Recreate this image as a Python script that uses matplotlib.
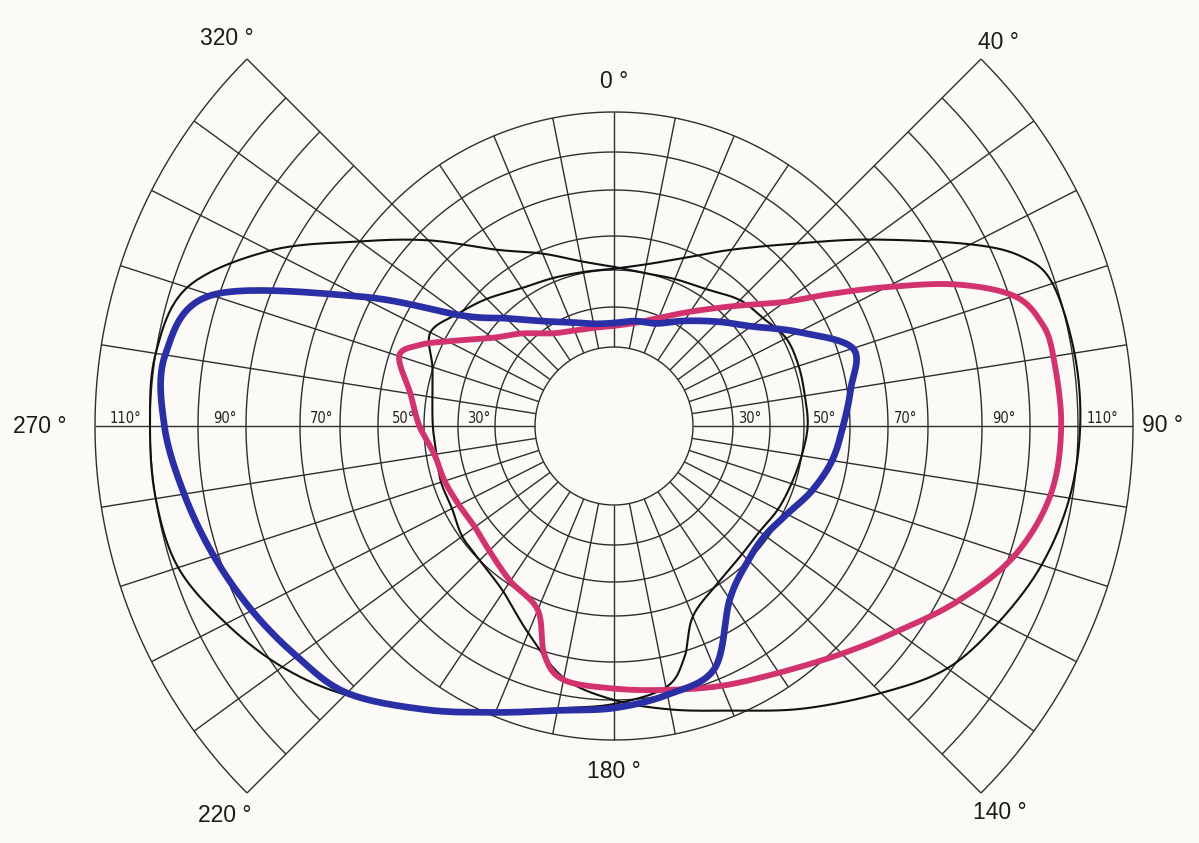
import numpy as np
import matplotlib
matplotlib.use("Agg")
import matplotlib.pyplot as plt

# ---- chart scale -------------------------------------------------------
# eccentricity rings (deg) and their radial position on the chart (px)
RING_ECC = [0, 10, 20, 30, 40, 50, 60, 70, 80, 90, 100, 110]
RING_POS = [0, 79, 119, 156, 190, 236, 274, 314, 368, 416, 464, 519]
# meridian (deg) -> drawn angle (deg): the 40-140 and 220-320 sectors are widened
MER_KNOTS = [0, 40, 90, 140, 180, 220, 270, 320, 360]
ANG_KNOTS = [0, 45, 90, 135, 180, 225, 270, 315, 360]

MERIDIAN_LABELS = [0, 40, 90, 140, 180, 220, 270, 320]
RING_LABELS = [30, 50, 70, 90, 110]

# ---- isopters: meridian (deg) and eccentricity (deg) --------------------
blue_mer = [0, 10, 20, 30, 40, 50, 60, 70, 80, 90, 100, 110, 120, 130, 140, 150,
            160, 170, 180, 190, 200, 210, 220, 230, 240, 250, 260, 270, 280, 290,
            300, 310, 320, 330, 340, 350]
blue_ecc = [16, 17, 18, 22, 27.7, 34, 43.7, 54, 51, 48.5, 46.7, 44, 40.9, 39, 40,
            44, 57, 60, 62, 64, 69, 75, 82, 85, 88, 91, 94, 97, 98, 91.5, 62.8,
            39.4, 29, 21.9, 18.3, 16.3]

pink_mer = [0, 10, 20, 30, 40, 50, 55, 60, 65, 70, 75, 80, 90, 100, 110, 120, 130,
            140, 150, 160, 170, 180, 190, 195, 200, 210, 220, 230, 240, 250, 260,
            270, 280, 290, 295, 300, 310, 320, 330, 340, 350]
pink_ecc = [15.3, 16.5, 19.5, 25, 34, 44.6, 54.3, 68, 80.4, 91, 95, 96, 96.5, 95.4,
            91, 83.7, 76.6, 71.5, 65.7, 61.8, 58.7, 57, 56, 50.9, 42, 39, 36, 34.7,
            35.3, 36.5, 37.6, 41, 43.5, 47.8, 44.6, 39, 28.4, 23.2, 18.1, 16.1, 15.3]

left_mer = [0, 10, 20, 30, 40, 50, 60, 70, 80, 90, 100, 110, 120, 130, 140, 150,
            160, 165, 170, 180, 190, 200, 210, 220, 230, 240, 250, 260, 270, 280,
            290, 300, 310, 320, 330, 340, 350]
left_ecc = [30.9, 30, 30.9, 32.6, 36.5, 38.2, 40.7, 40.9, 40.7, 40.8, 40, 39, 38.2,
            37, 37.4, 39.4, 43.5, 51.6, 58, 61, 63.5, 69, 75, 82.5, 88.75, 94,
            98.8, 100, 100, 100, 96.8, 83.8, 70, 57, 44.8, 39, 33.5]

right_mer = [0, 10, 20, 30, 40, 50, 60, 65, 70, 80, 90, 100, 110, 120, 130, 140,
             150, 160, 170, 180, 190, 200, 210, 220, 230, 240, 250, 260, 270, 280,
             290, 300, 310, 320, 330, 340, 350]
right_ecc = [30.4, 32.6, 37.6, 44.8, 55.8, 70.6, 86.7, 95.4, 99.4, 100.4, 100.4,
             99.4, 97, 93.3, 89.2, 82, 74.8, 68.5, 63.75, 60, 55.5, 47.4, 42, 40,
             39.3, 37.6, 37.6, 37, 37.4, 38.2, 40.2, 43.5, 40.4, 37, 32.9, 31.2,
             30.3]


def ecc_to_r(e):
    return np.interp(e, RING_ECC, RING_POS)


def mer_to_theta(m):
    return np.deg2rad(np.interp(np.asarray(m, float) % 360.0, MER_KNOTS, ANG_KNOTS))


def closed_curve(mer, ecc, n=24):
    """Smooth closed curve through the isopter points (Catmull-Rom in the plane)."""
    th = mer_to_theta(mer)
    r = ecc_to_r(np.asarray(ecc, float))
    P = np.column_stack([r * np.sin(th), r * np.cos(th)])
    N = len(P)
    t = np.linspace(0, 1, n, endpoint=False)[:, None]
    segs = []
    for i in range(N):
        p0, p1, p2, p3 = P[i - 1], P[i], P[(i + 1) % N], P[(i + 2) % N]
        segs.append(0.5 * (2 * p1 + (-p0 + p2) * t
                           + (2 * p0 - 5 * p1 + 4 * p2 - p3) * t ** 2
                           + (-p0 + 3 * p1 - 3 * p2 + p3) * t ** 3))
    Q = np.vstack(segs + [P[:1]])
    return np.arctan2(Q[:, 0], Q[:, 1]), np.hypot(Q[:, 0], Q[:, 1])


W, H, DPI = 1199, 843, 100
BG = "#fbfaf6"
fig = plt.figure(figsize=(W / DPI, H / DPI), dpi=DPI, facecolor=BG)

cx, cy, R = 614, 426, 560  # centre (px) and axes half-size
ax = fig.add_axes([(cx - R) / W, (H - cy - R) / H, 2 * R / W, 2 * R / H],
                  projection="polar")
ax.set_theta_zero_location("N")
ax.set_theta_direction(-1)
ax.set_ylim(0, R)
ax.set_axis_off()

GRID = dict(color="#2e2e2e", lw=1.0, solid_capstyle="butt")

# rings: full circle up to 70 deg, outer rings only in the widened sectors
full = np.linspace(0, 2 * np.pi, 721)
for e in RING_ECC[1:]:
    rr = ecc_to_r(e)
    if e <= 70:
        ax.plot(full, np.full_like(full, rr), **GRID)
    else:
        for a0, a1 in [(40, 140), (220, 320)]:
            th = np.linspace(mer_to_theta(a0), mer_to_theta(a1), 200)
            ax.plot(th, np.full_like(th, rr), **GRID)

# meridian lines every 10 deg
r_in, r_mid, r_out = ecc_to_r(10), ecc_to_r(70), ecc_to_r(110)
for m in range(0, 360, 10):
    wide = (40 <= m <= 140) or (220 <= m <= 320)
    th = mer_to_theta(m)
    ax.plot([th, th], [r_in, r_out if wide else r_mid], **GRID)

# ring labels along the horizontal meridian
for e in RING_LABELS:
    for m in (90, 270):
        ax.text(mer_to_theta(m), ecc_to_r(e - 5.5), f"{e}°",
                ha="center", va="bottom", fontsize=10.5,
                family=["Liberation Sans Narrow", "DejaVu Sans"],
                fontstretch="condensed", color="#222222", zorder=3)

# meridian labels outside the chart
label_r = {0: 344, 40: 543, 90: 549, 140: 546, 180: 346, 220: 551, 270: 574, 320: 548}
for m in MERIDIAN_LABELS:
    ax.text(mer_to_theta(m), label_r[m], f"{m} °", ha="center", va="center",
            fontsize=16.5, family=["Liberation Sans", "DejaVu Sans"], color="#1a1a1a")

# isopters
for mer, ecc in [(left_mer, left_ecc), (right_mer, right_ecc)]:
    th, rr = closed_curve(mer, ecc)
    ax.plot(th, rr, color="#111111", lw=1.5, zorder=4)

th, rr = closed_curve(pink_mer, pink_ecc)
ax.plot(th, rr, color="#d2336f", lw=4.2, zorder=5, solid_capstyle="round")
th, rr = closed_curve(blue_mer, blue_ecc)
ax.plot(th, rr, color="#2a2fa6", lw=4.8, zorder=6, solid_capstyle="round")

fig.savefig("out.png", dpi=DPI, facecolor=BG)
